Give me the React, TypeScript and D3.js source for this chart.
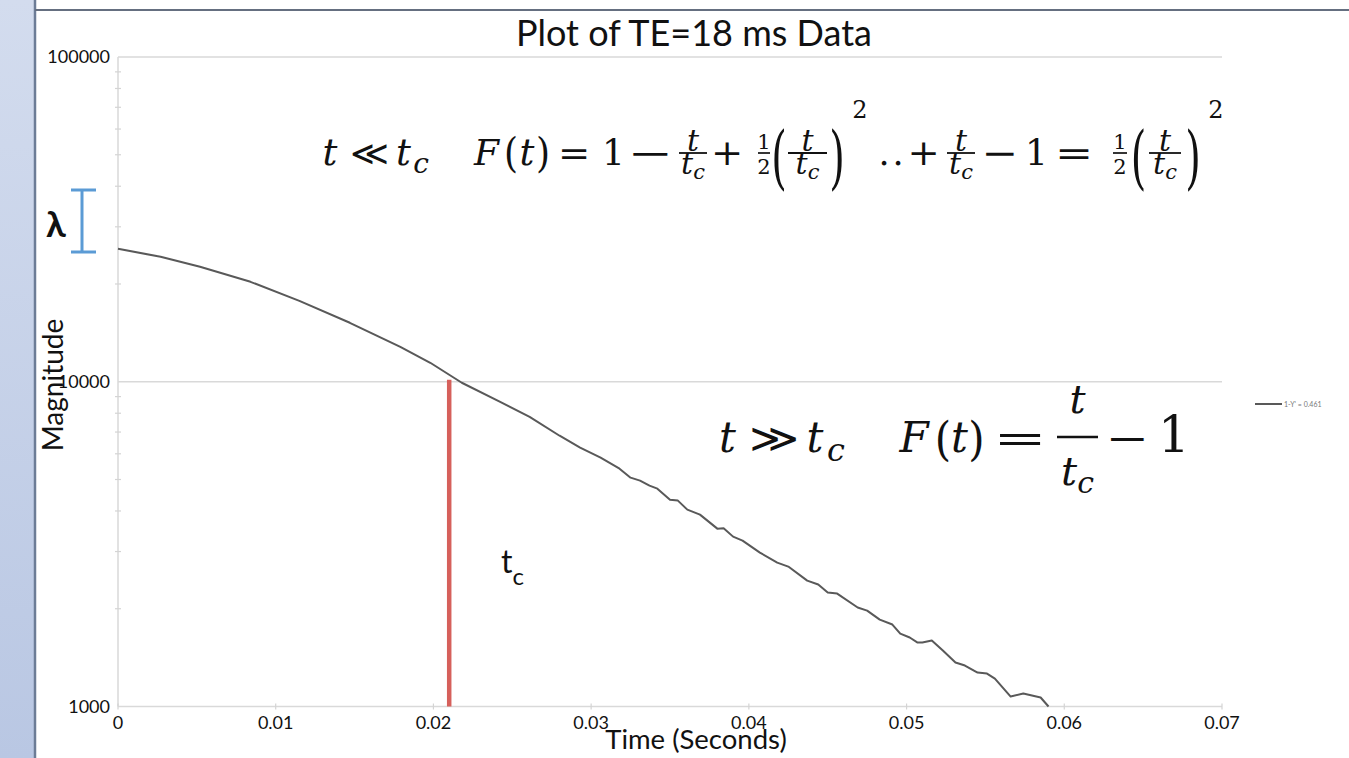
import React from 'react';
import * as d3 from 'd3';

// signal (time in s, magnitude on log axis)
const times = [0, 0.0027, 0.0052, 0.0084, 0.0115, 0.0147, 0.0179, 0.0198, 0.0218, 0.0242,
  0.0261, 0.0280, 0.0293, 0.0306, 0.0318, 0.0325, 0.0331, 0.0337, 0.0342, 0.0350,
  0.0355, 0.0361, 0.0369, 0.0380, 0.0384, 0.0390, 0.0396, 0.0407, 0.0418, 0.0425,
  0.0437, 0.0444, 0.0450, 0.0456, 0.0469, 0.0475, 0.0483, 0.0491, 0.0496, 0.0502,
  0.0507, 0.0510, 0.0516, 0.0523, 0.0531, 0.0537, 0.0545, 0.0551, 0.0556, 0.0566,
  0.0574, 0.0585, 0.0590];
const magnitudes = [25660, 24250, 22590, 20310, 17750, 15190, 12810, 11440, 9930, 8680,
  7800, 6820, 6265, 5838, 5400, 5066, 4960, 4786, 4686, 4335,
  4305, 4039, 3898, 3529, 3540, 3335, 3243, 2978, 2774, 2697,
  2442, 2374, 2243, 2227, 2017, 1974, 1852, 1788, 1677, 1631,
  1573, 1575, 1596, 1487, 1366, 1337, 1272, 1263, 1219, 1073,
  1096, 1066, 1000];

const xTicks = [0, 0.01, 0.02, 0.03, 0.04, 0.05, 0.06, 0.07];
const xTickLabels = ['0', '0.01', '0.02', '0.03', '0.04', '0.05', '0.06', '0.07'];
const yTicks = [1000, 10000, 100000];
const yTickLabels = ['1000', '10000', '100000'];

const tcTime = 0.021;
const tcTop = 10150;
const legendLabel = "1-Y' = 0.461";
const title = 'Plot of TE=18 ms Data';

const W = 1349, H = 758;
const SANS = "Lato, 'Open Sans', sans-serif";
const MATH = "'DejaVu Serif', 'Liberation Serif', serif";

const x = d3.scaleLinear().domain([0, 0.07]).range([118, 1222]);
const y = d3.scaleLog().domain([1000, 100000]).range([706.5, 57]);

const minorY = [1000, 10000].flatMap(d => d3.range(2, 10).map(k => k * d));

const line = d3.line<number>()
  .x((_, i) => x(times[i]))
  .y(d => y(d));

// one glyph centred on cx, optionally stretched
function G({ cx, y: by, size, ch, italic = false, sx = 1, sy = 1 }) {
  return (
    <text transform={`translate(${cx},${by}) scale(${sx},${sy})`} fontSize={size}
      fontStyle={italic ? 'italic' : 'normal'} textAnchor="middle">{ch}</text>
  );
}

// stacked fraction t / t_c
function FracT({ x0, x1, barY, size, sub, numGap, denGap, subDy }) {
  const cx = (x0 + x1) / 2;
  return (
    <g>
      <text x={cx} y={barY - numGap} fontSize={size} fontStyle="italic" textAnchor="middle">t</text>
      <line x1={x0} x2={x1} y1={barY} y2={barY} stroke="#111" strokeWidth={size > 34 ? 2.4 : 1.8} />
      <text x={cx} y={barY + denGap} fontSize={size} fontStyle="italic" textAnchor="middle">
        t<tspan fontSize={sub} dy={subDy}>c</tspan>
      </text>
    </g>
  );
}

function Half({ x0, x1, barY }) {
  const cx = (x0 + x1) / 2;
  return (
    <g>
      <text x={cx} y={barY - 4} fontSize={21} textAnchor="middle">1</text>
      <line x1={x0} x2={x1} y1={barY} y2={barY} stroke="#111" strokeWidth={1.7} />
      <text x={cx} y={barY + 21} fontSize={21} textAnchor="middle">2</text>
    </g>
  );
}

const B1 = 165;   // baseline of the upper formula
const BAR1 = 153; // its fraction bars

export default function App() {
  return (
    <svg width={W} height={H} style={{ position: 'absolute', left: 0, top: 0 }}>
      <defs>
        <linearGradient id="strip" x1="0" y1="0" x2="0" y2="1">
          <stop offset="0" stopColor="#d3dcee" />
          <stop offset="1" stopColor="#b9c7e3" />
        </linearGradient>
      </defs>
      <rect width={W} height={H} fill="#fff" />
      <rect x={0} y={0} width={34} height={H} fill="url(#strip)" />
      <line x1={35} x2={35} y1={0} y2={H} stroke="#6c7c96" strokeWidth={2.5} />
      <line x1={35} x2={W} y1={10} y2={10} stroke="#656f80" strokeWidth={2} />

      {/* grid + axes */}
      {yTicks.map(t => (
        <line key={t} x1={x(0)} x2={x(0.07)} y1={y(t)} y2={y(t)} stroke="#d9d9d9" strokeWidth={1.5} />
      ))}
      <line x1={x(0)} x2={x(0)} y1={y(100000)} y2={y(1000)} stroke="#d9d9d9" strokeWidth={1.5} />
      {minorY.map(t => (
        <line key={t} x1={x(0) - 3} x2={x(0) + 3} y1={y(t)} y2={y(t)} stroke="#d4d4d4" strokeWidth={1.2} />
      ))}
      {xTicks.map(t => (
        <line key={t} x1={x(t)} x2={x(t)} y1={y(1000) - 3} y2={y(1000) + 3} stroke="#d4d4d4" strokeWidth={1.2} />
      ))}

      {/* tick labels */}
      <g fontFamily={SANS} fontSize={18} fill="#111">
        {yTicks.map((t, i) => (
          <text key={t} x={110} y={y(t)} dy="0.36em" textAnchor="end">{yTickLabels[i]}</text>
        ))}
        {xTicks.map((t, i) => (
          <text key={t} x={x(t)} y={729} textAnchor="middle">{xTickLabels[i]}</text>
        ))}
      </g>

      {/* titles */}
      <text x={694} y={46} fontFamily={SANS} fontSize={36} textAnchor="middle" fill="#111">{title}</text>
      <text x={696} y={749} fontFamily={SANS} fontSize={27.5} textAnchor="middle" fill="#111">Time (Seconds)</text>
      <text transform="translate(63,385) rotate(-90)" fontFamily={SANS} fontSize={28} textAnchor="middle" fill="#111">Magnitude</text>

      {/* data */}
      <path d={line(magnitudes) ?? ''} fill="none" stroke="#595959" strokeWidth={2} strokeLinejoin="round" />

      {/* t_c marker */}
      <line x1={x(tcTime)} x2={x(tcTime)} y1={y(tcTop)} y2={y(1000)} stroke="#d6605b" strokeWidth={4.5} />
      <text x={501} y={573} fontFamily={SANS} fontSize={32} fill="#111">t<tspan fontSize={24} dy={12}>c</tspan></text>

      {/* lambda bracket */}
      <g stroke="#5b9bd5" strokeWidth={3}>
        <line x1={82} x2={82} y1={189} y2={252} />
        <line x1={71} x2={96} y1={190} y2={190} />
        <line x1={71} x2={96} y1={252} y2={252} />
      </g>
      <text x={46} y={237} fontFamily={SANS} fontSize={36} fontWeight="bold" fill="#111">λ</text>

      {/* legend */}
      <line x1={1255} x2={1282} y1={404} y2={404} stroke="#595959" strokeWidth={2} />
      <text x={1284} y={406.5} fontFamily={SANS} fontSize={7} fill="#777">{legendLabel}</text>

      {/* equation 1 */}
      <g fontFamily={MATH} fill="#111">
        <G cx={330} y={B1} size={37} ch="t" italic />
        <G cx={369.5} y={B1} size={34} ch="≪" sx={1.1} />
        <G cx={403.5} y={B1} size={37} ch="t" italic />
        <G cx={421} y={B1 + 8} size={28} ch="c" italic />
        <G cx={486.5} y={B1} size={36} ch="F" italic />
        <G cx={511} y={B1 + 2} size={36} ch="(" sy={1.15} />
        <G cx={527} y={B1} size={37} ch="t" italic />
        <G cx={543} y={B1 + 2} size={36} ch=")" sy={1.15} />
        <G cx={574} y={B1} size={35} ch="=" sx={1.1} />
        <G cx={613.5} y={B1} size={36} ch="1" />
        <G cx={650} y={B1} size={35} ch="−" sx={1.55} />
        <FracT x0={679} x1={707} barY={BAR1} size={30} sub={21} numGap={2} denGap={21} subDy={5} />
        <G cx={727} y={B1} size={35} ch="+" sx={1.1} />
        <Half x0={758} x1={770} barY={BAR1} />
        <G cx={779} y={B1 + 16} size={40} ch="(" sy={1.75} />
        <FracT x0={788} x1={827} barY={BAR1} size={30} sub={21} numGap={2} denGap={21} subDy={5} />
        <G cx={837} y={B1 + 16} size={40} ch=")" sy={1.75} />
        <G cx={860} y={118} size={24} ch="2" />
        <G cx={884} y={B1} size={35} ch="." />
        <G cx={898} y={B1} size={35} ch="." />
        <G cx={923.5} y={B1} size={35} ch="+" sx={1.1} />
        <FracT x0={947} x1={975} barY={BAR1} size={30} sub={21} numGap={2} denGap={21} subDy={5} />
        <G cx={999.5} y={B1} size={35} ch="−" sx={1.25} />
        <G cx={1036.5} y={B1} size={36} ch="1" />
        <G cx={1074} y={B1} size={35} ch="=" sx={1.3} />
        <Half x0={1113} x1={1127} barY={BAR1} />
        <G cx={1138.5} y={B1 + 16} size={40} ch="(" sy={1.75} />
        <FracT x0={1149} x1={1181} barY={BAR1} size={30} sub={21} numGap={2} denGap={21} subDy={5} />
        <G cx={1193} y={B1 + 16} size={40} ch=")" sy={1.75} />
        <G cx={1216} y={118} size={24} ch="2" />
      </g>

      {/* equation 2 */}
      <g fontFamily={MATH} fill="#111">
        <G cx={727.5} y={452} size={42} ch="t" italic />
        <G cx={774} y={452} size={40} ch="≫" sx={1.2} />
        <G cx={815} y={452} size={42} ch="t" italic />
        <G cx={836} y={461} size={32} ch="c" italic />
        <G cx={914} y={452} size={42} ch="F" italic />
        <G cx={943} y={455} size={42} ch="(" sy={1.1} />
        <G cx={959.5} y={452} size={42} ch="t" italic />
        <G cx={976.5} y={455} size={42} ch=")" sy={1.1} />
        <G cx={1020} y={452} size={40} ch="=" sx={1.6} />
        <FracT x0={1057} x1={1098} barY={437} size={40} sub={30} numGap={24} denGap={48} subDy={8} />
        <G cx={1127.5} y={452} size={40} ch="−" sx={1.3} />
        <G cx={1174} y={452} size={50} ch="1" />
      </g>
    </svg>
  );
}
